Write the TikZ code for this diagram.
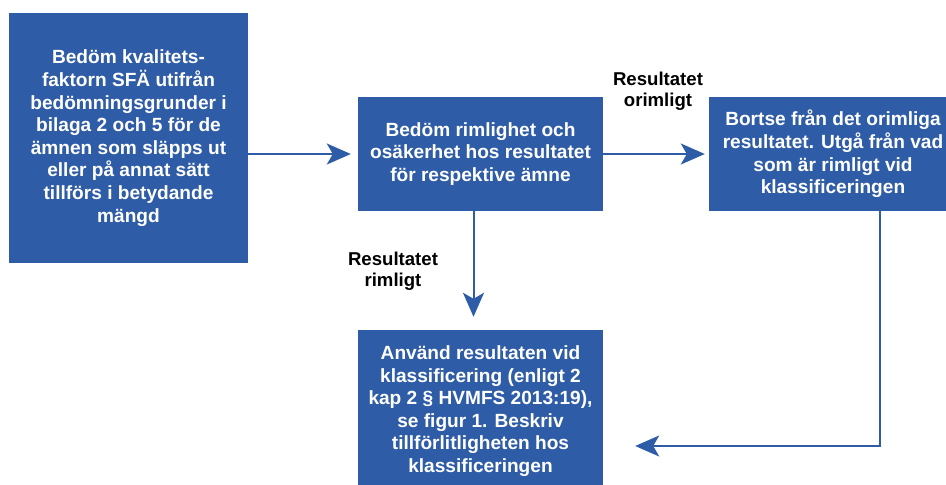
\documentclass[tikz,border=0pt]{standalone}
\usepackage{fontspec}
\setmainfont{Liberation Sans}
\usetikzlibrary{arrows.meta}
\definecolor{flowblue}{RGB}{47,92,166}
\tikzset{
  stepbox/.style={fill=flowblue, draw=none, text=white, inner sep=0pt,
    align=center, font=\fontsize{19.1}{22.6}\selectfont\bfseries},
  steplabel/.style={text=black, inner sep=0pt, align=center,
    font=\fontsize{18.6}{21}\selectfont\bfseries},
  flow/.style={draw=flowblue, line width=2pt,
    -{Stealth[length=24pt,width=21pt,inset=6pt]}}
}
\begin{document}
\begin{tikzpicture}[x=1pt,y=-1pt]
  \useasboundingbox (0,0) rectangle (946,485);
  \clip (0,0) rectangle (946,485);

  \node[stepbox, minimum width=239pt, minimum height=250pt] (assess) at (128.5,138)
    {Bedöm kvalitets-\\faktorn SFÄ utifrån\\bedömningsgrunder i\\bilaga 2 och 5 för de\\ämnen som släpps ut\\eller på annat sätt\\tillförs i betydande\\mängd};
  \node[stepbox, minimum width=245pt, minimum height=114pt] (check) at (480.5,154)
    {Bedöm rimlighet och\\osäkerhet hos resultatet\\för respektive ämne};
  \node[stepbox, minimum width=248pt, minimum height=114pt] (discard) at (833,154)
    {Bortse från det orimliga\\resultatet. Utgå från vad\\som är rimligt vid\\klassificeringen};
  \node[stepbox, minimum width=245pt, minimum height=162pt] (use) at (480.5,411)
    {Använd resultaten vid\\klassificering (enligt 2\\kap 2 § HVMFS 2013:19),\\se figur 1. Beskriv\\tillförlitligheten hos\\klassificeringen};

  \node[steplabel] (lblno) at (658,91) {Resultatet\\orimligt};
  \node[steplabel] (lblyes) at (393,271) {Resultatet\\rimligt};

  \draw[flow] (assess.east |- check.west) -- ([xshift=-7pt]check.west);
  \draw[flow] (check.east) -- ([xshift=-4pt]discard.west);
  \draw[flow] ([xshift=-7pt]check.south) -- ([xshift=-7pt,yshift=13pt]use.north);
  \draw[flow] ([xshift=47pt]discard.south) |- ([xshift=32pt,yshift=-35pt]use.east);
\end{tikzpicture}
\end{document}
